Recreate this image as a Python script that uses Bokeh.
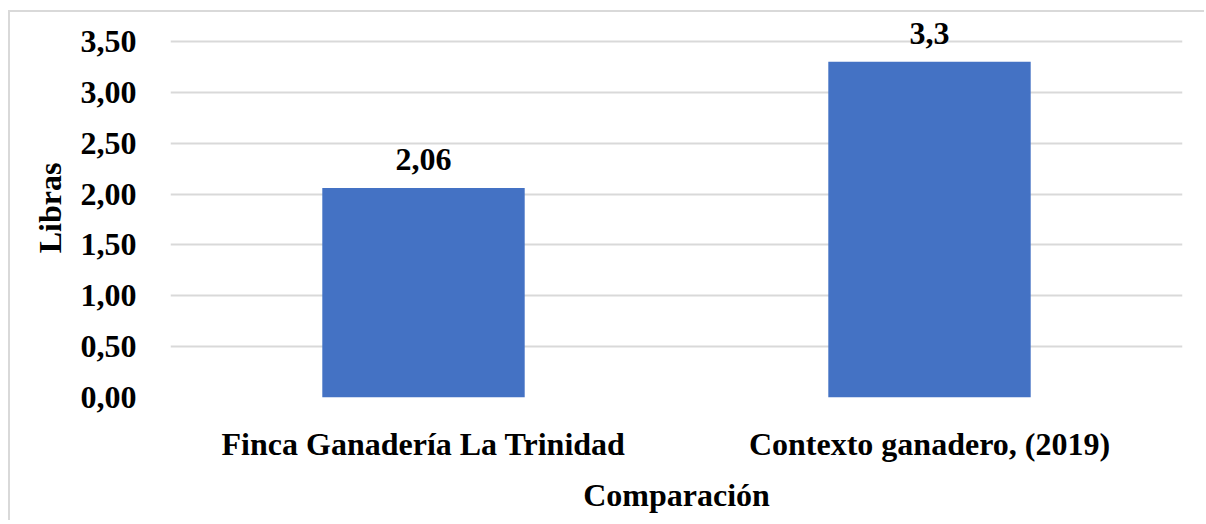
from bokeh.plotting import figure
from bokeh.models import ColumnDataSource, Range1d, FactorRange, SingleIntervalTicker, CustomJSTickFormatter, LabelSet
from bokeh.core.properties import value
from bokeh.embed import file_html
from bokeh.resources import INLINE

categories = ["Finca Ganadería La Trinidad", "Contexto ganadero, (2019)"]
values = [2.06, 3.3]
value_labels = ["2,06", "3,3"]

FONT = "Liberation Serif"
FS = "32px"

src = ColumnDataSource(dict(cat=categories, val=values, lab=value_labels))

# axis max is 3.5; frame extended upward (379px instead of 356px) so the top data label is not clipped
y_end = 3.5 * 379 / 356

p = figure(width=1196, height=510, output_backend="svg", toolbar_location=None,
           x_range=FactorRange(*categories, range_padding=0), y_range=Range1d(0, y_end))
p.min_border_left = 160
p.min_border_right = 24
p.min_border_top = 6
p.min_border_bottom = 125
p.outline_line_color = None
p.styles = {"border-top": "2px solid #d9d9d9", "border-left": "2px solid #d9d9d9",
            "margin-left": "8px", "margin-top": "10px"}

p.vbar(x="cat", top="val", width=0.4, source=src, fill_color="#4472C4", line_color=None)
labels = LabelSet(x="cat", y="val", text="lab", source=src, text_align="center",
                  text_baseline="alphabetic", y_offset=18, text_font=FONT,
                  text_font_style="bold", text_font_size=FS, text_color="black")
p.add_layout(labels)

p.yaxis.ticker = SingleIntervalTicker(interval=0.5)
p.yaxis.formatter = CustomJSTickFormatter(code="return tick.toFixed(2).replace('.', ',');")
for ax in (p.xaxis[0], p.yaxis[0]):
    ax.axis_line_color = None
    ax.major_tick_line_color = None
    ax.minor_tick_line_color = None
    ax.major_label_text_font = FONT
    ax.major_label_text_font_style = "bold"
    ax.major_label_text_font_size = FS
    ax.major_label_text_color = "black"
    ax.axis_label_text_font = FONT
    ax.axis_label_text_font_style = "bold"
    ax.axis_label_text_font_size = FS
    ax.axis_label_text_color = "black"

p.yaxis.axis_label = "Libras"
p.xaxis.axis_label = "Comparación"
p.yaxis.major_label_standoff = 28
p.yaxis.axis_label_standoff = 10
p.xaxis.major_label_standoff = 22
p.xaxis.axis_label_standoff = 12

p.xgrid.grid_line_color = None
p.ygrid.grid_line_color = "#d9d9d9"
p.ygrid.grid_line_width = 2

open("out.html", "w").write(file_html(p, INLINE))
